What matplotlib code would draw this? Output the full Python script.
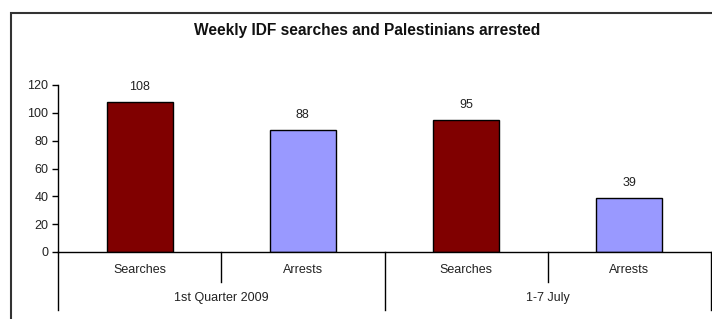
import matplotlib
matplotlib.use("Agg")
import matplotlib.pyplot as plt
from matplotlib.patches import Rectangle
from matplotlib.lines import Line2D

title = "Weekly IDF searches and Palestinians arrested"
sub_labels = ["Searches", "Arrests", "Searches", "Arrests"]
group_labels = ["1st Quarter 2009", "1-7 July"]
values = [108, 88, 95, 39]
colors = ["#800000", "#9999FF", "#800000", "#9999FF"]
yticks = [0, 20, 40, 60, 80, 100, 120]

plt.rcParams['font.family'] = ['Liberation Sans', 'DejaVu Sans']

W, H = 712, 319
fig = plt.figure(figsize=(W / 100, H / 100), dpi=100)

def fx(px):
    return px / W

def fy(py):
    return 1 - py / H

ax = fig.add_axes([fx(58), fy(252), fx(711) - fx(58), fy(85) - fy(252)])
x = list(range(len(values)))
bars = ax.bar(x, values, width=0.405, color=colors, edgecolor="black", linewidth=1.0)
for xi, v in zip(x, values):
    ax.annotate(str(v), (xi, v), xytext=(0, 6), textcoords="offset points",
                ha="center", va="bottom", fontsize=9, color="#222222")

ax.set_xlim(-0.5, len(values) - 0.5)
ax.set_ylim(0, 120)
ax.set_yticks(yticks)
ax.set_yticklabels([str(t) for t in yticks], fontsize=9, color="#222222")
ax.tick_params(axis="y", direction="out", length=4, width=1, pad=3)
ax.set_xticks([])
for s in ["top", "right"]:
    ax.spines[s].set_visible(False)
ax.spines["left"].set_linewidth(1)
ax.spines["bottom"].set_linewidth(1)
ax.spines["left"].set_bounds(0, 120)

trans = ax.get_xaxis_transform()
def ay(py):
    return (fy(py) - fy(252)) / (fy(85) - fy(252))

ax.add_line(Line2D([-0.5, -0.5], [0, ay(310)], transform=trans, color="black", lw=1, clip_on=False))
n = len(values)
for b in range(1, n + 1):
    xb = b - 0.5
    outer = (b % 2 == 0)
    bottom = ay(310) if outer else ay(282)
    ax.add_line(Line2D([xb, xb], [0, bottom], transform=trans, color="black", lw=1, clip_on=False))

for xi, lab in zip(x, sub_labels):
    ax.text(xi, ay(270), lab, transform=trans, ha="center", va="center", fontsize=9, color="#222222")
for gi, lab in enumerate(group_labels):
    ax.text(2 * gi + 0.5, ay(298), lab, transform=trans, ha="center", va="center", fontsize=9, color="#222222")

fig.text(fx(367), fy(31), title, ha="center", va="center", fontsize=11.2, fontweight="bold", color="#111111")

fig.patches.append(Rectangle((fx(11), fy(330)), 1.2, fy(13) - fy(330), transform=fig.transFigure,
                             fill=False, edgecolor="#333333", lw=1.5, figure=fig))

fig.savefig("out.png", dpi=100, facecolor="white")
